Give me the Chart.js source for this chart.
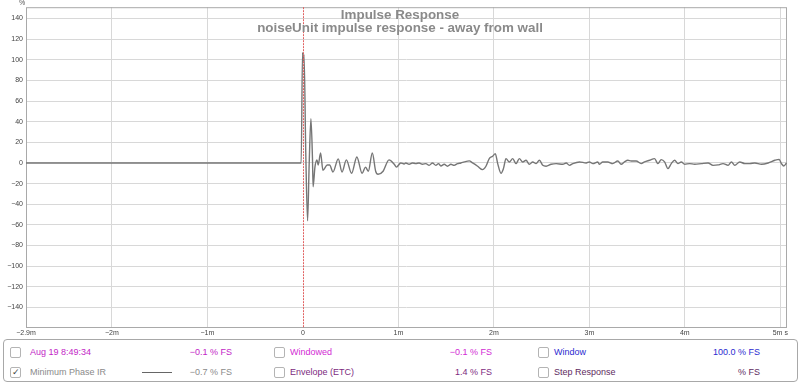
<!DOCTYPE html>
<html>
<head>
<meta charset="utf-8">
<script src="https://cdn.jsdelivr.net/npm/chart.js@4.4.1/dist/chart.umd.min.js"></script>
<style>
  html, body { margin: 0; padding: 0; background: #fff; }
  #wrap { position: relative; width: 800px; height: 383px; overflow: hidden; font-family: "Liberation Sans", Arial, sans-serif; }
  #chart { position: absolute; left: 0; top: 0; }
  .title { position: absolute; left: 0; width: 800px; text-align: center; color: #8a8a8a; font-weight: bold; font-size: 13.4px; line-height: 13px; }
  .unit { position: absolute; left: 19px; top: -1px; font-size: 7px; color: #555; }
  #panel { position: absolute; left: 3px; top: 339px; width: 793px; height: 41px; border: 1px solid #a8a8a8; border-radius: 4px; background: #fff; }
  .box { position: absolute; width: 9px; height: 9px; border: 1px solid #b4b4b4; border-radius: 2px; background: #fff; font-size: 9px; line-height: 9px; text-align: center; color: #444; }
  .lbl { position: absolute; font-size: 9px; line-height: 10px; white-space: nowrap; }
  .val { position: absolute; font-size: 9px; line-height: 10px; white-space: nowrap; text-align: right; }
  .swatch { position: absolute; height: 0; border-top: 1.5px solid #666; }
</style>
</head>
<body>
<div id="wrap">
  <canvas id="chart" width="800" height="383"></canvas>
  <div class="unit">%</div>
  <div class="title" style="top:8px">Impulse Response</div>
  <div class="title" style="top:21px">noiseUnit impulse response - away from wall</div>
  <div id="panel">
    <div class="box" style="left:6px; top:7px"></div>
    <div class="lbl" style="left:26px; top:7px; color:#c21ec6">Aug 19 8:49:34</div>
    <div class="val" style="right:565px; top:7px; color:#c21ec6">−0.1 % FS</div>
    <div class="box" style="left:270px; top:7px"></div>
    <div class="lbl" style="left:286px; top:7px; color:#d22ad4">Windowed</div>
    <div class="val" style="right:305px; top:7px; color:#d22ad4">−0.1 % FS</div>
    <div class="box" style="left:534px; top:7px"></div>
    <div class="lbl" style="left:550px; top:7px; color:#2a2ad0">Window</div>
    <div class="val" style="right:37px; top:7px; color:#2a2ad0">100.0 % FS</div>

    <div class="box" style="left:6px; top:27px">✓</div>
    <div class="lbl" style="left:26px; top:27px; color:#8a8a8a">Minimum Phase IR</div>
    <div class="swatch" style="left:138px; width:30px; top:32px"></div>
    <div class="val" style="right:565px; top:27px; color:#8a8a8a">−0.7 % FS</div>
    <div class="box" style="left:270px; top:27px"></div>
    <div class="lbl" style="left:286px; top:27px; color:#7d2a80">Envelope (ETC)</div>
    <div class="val" style="right:305px; top:27px; color:#7d2a80">1.4 % FS</div>
    <div class="box" style="left:534px; top:27px"></div>
    <div class="lbl" style="left:550px; top:27px; color:#5e2a5e">Step Response</div>
    <div class="val" style="right:37px; top:27px; color:#5e2a5e">% FS</div>
  </div>
</div>
<script>
// time axis in ms
const xTickValues = [-2.9, -2, -1, 0, 1, 2, 3, 4, 5];
const xTickLabels = ["−2.9m", "−2m", "−1m", "0", "1m", "2m", "3m", "4m", "5m s"];
const yTickValues = [-140, -120, -100, -80, -60, -40, -20, 0, 20, 40, 60, 80, 100, 120, 140];

// impulse response (ms, %)
const times = [
  -2.9, -0.018, -0.004, 0.004, 0.012, 0.03, 0.049, 0.066, 0.084, 0.1,
  0.107, 0.126, 0.147, 0.16, 0.185, 0.21, 0.255, 0.28, 0.315, 0.37,
  0.41, 0.455, 0.51, 0.565, 0.62, 0.655, 0.685, 0.727, 0.762, 0.787,
  0.84, 0.902, 0.955, 0.98, 1.025, 1.06, 1.078, 1.112, 1.147, 1.183,
  1.217, 1.252, 1.288, 1.322, 1.357, 1.392, 1.42, 1.445, 1.48, 1.514,
  1.55, 1.584, 1.62, 1.655, 1.69, 1.742, 1.777, 1.83, 1.882, 1.917,
  1.952, 1.987, 2.015, 2.04, 2.075, 2.1, 2.127, 2.162, 2.197, 2.232,
  2.267, 2.302, 2.337, 2.372, 2.407, 2.442, 2.477, 2.512, 2.547, 2.6,
  2.652, 2.722, 2.757, 2.792, 2.827, 2.897, 2.967, 3.0, 3.037, 3.088,
  3.106, 3.14, 3.193, 3.245, 3.298, 3.333, 3.368, 3.403, 3.438, 3.49,
  3.543, 3.578, 3.63, 3.683, 3.718, 3.753, 3.788, 3.823, 3.858, 3.893,
  3.928, 3.963, 3.998, 4.05, 4.103, 4.173, 4.243, 4.295, 4.348, 4.4,
  4.453, 4.488, 4.523, 4.575, 4.628, 4.68, 4.733, 4.803, 4.873, 4.943,
  4.988, 5.012, 5.037, 5.065
];
const amplitude = [
  0, 0, 107, 99, 105, 10, -56, 0, 43, 5,
  -23, -4, 3, -2, 9.7, -7, -2, -2, -8.7, 4,
  -8.7, 3, -10, 5.8, -10, -4, -8, 9.7, -8, -11,
  -8, 3, -1, -4, 0, -1, 0, -1.3, 0, -0.6,
  0, -1.3, -0.6, -2.3, 0, -2.3, -0.6, -2.9, -1.3, -3.2,
  -1.3, -2.3, -0.6, 0, 1, 2, 0, -3.2, -6.5, -3.2,
  4.2, 6.5, 9, -0.6, -10, -5.5, 4.2, 1, 4.2, -0.6,
  4.2, 1, 2.6, -1.3, 1, -0.6, 2.6, -2.3, -3.2, -1.3,
  -0.6, -1.3, 0, -2.3, -0.6, 1, 0, 1, -0.6, 1,
  -1.3, 1, 1, -0.6, 1.9, -1.3, 1, 2.6, 1.9, 1.9,
  -0.6, 1, 2.6, 4.2, -0.6, 3.2, 1, -5.5, -0.6, 2.6,
  -0.6, 1, -1.3, -0.6, -1.3, -0.6, 0, -2.3, -1.9, -0.6,
  -2.3, 1, -2.3, 1, -0.6, -0.6, 0, -1.3, 0, 2.6,
  3.5, -0.6, -3, 0
];

const points = times.map((t, i) => ({ x: t, y: amplitude[i] }));

function fmtNum(v) {
  return v < 0 ? "−" + Math.abs(v) : String(v);
}

// plot frame + red dotted marker at t = 0
const framePlugin = {
  id: "frame",
  beforeDatasetsDraw(chart) {
    const { ctx, chartArea: a } = chart;
    ctx.save();
    ctx.strokeStyle = "#a9a9a9";
    ctx.lineWidth = 1;
    ctx.strokeRect(a.left + 0.5, a.top + 0.5, a.right - a.left - 1, a.bottom - a.top - 1);
    ctx.restore();
  },
  afterDatasetsDraw(chart) {
    const { ctx, chartArea: a, scales } = chart;
    const x0 = Math.round(scales.x.getPixelForValue(0)) + 0.5;
    ctx.save();
    ctx.strokeStyle = "#e06060";
    ctx.lineWidth = 1;
    ctx.setLineDash([2, 1]);
    ctx.beginPath();
    ctx.moveTo(x0, a.top);
    ctx.lineTo(x0, a.bottom);
    ctx.stroke();
    ctx.restore();
  }
};

new Chart(document.getElementById("chart"), {
  type: "line",
  data: {
    datasets: [{
      data: points,
      borderColor: "#767676",
      borderWidth: 1.4,
      pointRadius: 0,
      cubicInterpolationMode: "monotone",
      fill: false
    }]
  },
  options: {
    responsive: false,
    animation: false,
    layout: { padding: { top: 7, right: 13, bottom: 43, left: 0 } },
    plugins: { legend: { display: false }, tooltip: { enabled: false } },
    scales: {
      x: {
        type: "linear",
        min: -2.9,
        max: 5.07,
        afterBuildTicks: (scale) => { scale.ticks = xTickValues.map(v => ({ value: v })); },
        afterFit: (scale) => { scale.height = 12; },
        ticks: {
          autoSkip: false,
          maxRotation: 0,
          padding: 1,
          color: "#444",
          font: { family: "Liberation Sans", size: 7 },
          callback: (v, i) => xTickLabels[i]
        },
        grid: {
          color: (c) => (c.tick && (c.tick.value === 0 || c.tick.value === -2.9)) ? "rgba(0,0,0,0)" : "#d8d8d8",
          drawTicks: false
        },
        border: { display: false }
      },
      y: {
        min: -160,
        max: 151,
        afterBuildTicks: (scale) => { scale.ticks = yTickValues.map(v => ({ value: v })); },
        afterFit: (scale) => { scale.width = 26; },
        ticks: {
          padding: 3,
          color: "#444",
          font: { family: "Liberation Sans", size: 7 },
          callback: (v) => fmtNum(v)
        },
        grid: { color: "#d8d8d8", drawTicks: false },
        border: { display: false }
      }
    }
  },
  plugins: [framePlugin]
});
</script>
</body>
</html>
